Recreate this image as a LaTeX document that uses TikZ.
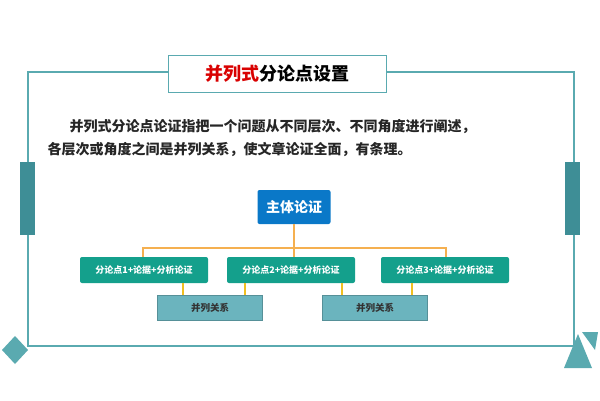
\documentclass[tikz,border=0pt]{standalone}
\usepackage{fontspec}
\newfontfamily\cjk{Noto Sans CJK SC}
\definecolor{teal1}{HTML}{5AAAB0}
\definecolor{bar}{HTML}{3E8E96}
\definecolor{green1}{HTML}{14A08C}
\definecolor{blue1}{HTML}{0A78C8}
\definecolor{rel}{HTML}{6BB4BE}
\definecolor{orng}{HTML}{F5B050}
\definecolor{ylw}{HTML}{F0C020}
\tikzset{x=1pt,y=-1pt,
 pt/.style={fill=green1,text=white,rounded corners=2pt,minimum width=128pt,minimum height=26pt,inner sep=0pt,font=\cjk\bfseries\fontsize{9}{9}\selectfont},
 relbox/.style={fill=rel,draw=rel!80!black,minimum width=105pt,minimum height=25pt,inner sep=0pt,font=\cjk\bfseries\fontsize{9.5}{9.5}\selectfont,text=black!80},
 frame/.style={draw=teal1,line width=1.5pt},
 bodytext/.style={anchor=west,font=\cjk\bfseries\fontsize{14}{14}\selectfont,text=black!85}}
\begin{document}
\begin{tikzpicture}
\useasboundingbox[fill=white] (0,0) rectangle (600,400);
\draw[frame] (168,72) -- (28,72) -- (28,346) -- (574,346) -- (574,72) -- (386,72);
\node[draw=teal1,line width=1pt,minimum width=218pt,minimum height=37pt,fill=white,font=\cjk\bfseries\fontsize{18}{18}\selectfont] (title) at (277,73.5) {\textcolor{red!85!black}{并列式}分论点设置};
\fill[bar] (20,162) rectangle (35,235);
\fill[bar] (565,162) rectangle (580,235);
\fill[teal1] (15,336) -- (28,350) -- (15,364) -- (2,350) -- cycle;
\fill[teal1] (578,334) -- (592,368) -- (564,368) -- cycle;
\fill[teal1] (582,332) -- (598,332) -- (595,350) -- cycle;
\node[bodytext] (l1) at (66,127) {并列式分论点论证指把一个问题从不同层次、不同角度进行阐述，};
\node[bodytext] (l2) at (44,149) {各层次或角度之间是并列关系，使文章论证全面，有条理。};
\node[fill=blue1,text=white,rounded corners=2pt,minimum width=73pt,minimum height=34pt,font=\cjk\bfseries\fontsize{14}{14}\selectfont] (main) at (294,207) {主体论证};
\node[relbox] (r1) at (210,308) {并列关系};
\node[relbox] (r2) at (375,308) {并列关系};
\node[pt] (p1) at (144,270) {分论点1+论据+分析论证};
\node[pt] (p2) at (291,270) {分论点2+论据+分析论证};
\node[pt] (p3) at (445,270) {分论点3+论据+分析论证};
\draw[orng,line width=1.2pt] (main.south) -- (294,248);
\draw[orng,line width=1.2pt] (p1.north -| 143,0) |- (294,248) -| (p3.north -| 446,0);
\draw[orng,line width=1.2pt] (294,248) -- (294,257);
\draw[ylw,line width=1.2pt] (183,283) -- (r1.north -| 183,0);
\draw[ylw,line width=1.2pt] (245,283) -- (r1.north -| 245,0);
\draw[ylw,line width=1.2pt] (342,283) -- (r2.north -| 342,0);
\draw[ylw,line width=1.2pt] (412,283) -- (r2.north -| 412,0);
\end{tikzpicture}
\end{document}
